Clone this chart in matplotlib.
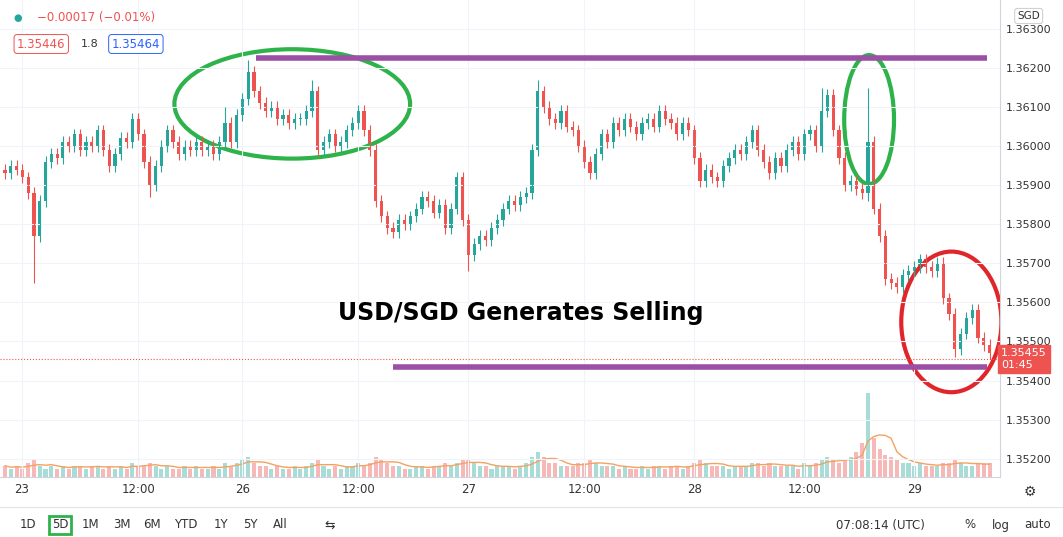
import matplotlib
matplotlib.use("Agg")
import matplotlib.pyplot as plt
from matplotlib.patches import Ellipse
import numpy as np
import pandas as pd

# closes in units of 0.0001 above 1.35
closes = [93,95,94,92,88,77,86,96,98,97,101,100,103,99,101,100,104,99,95,98,
          102,101,107,103,96,90,95,100,104,101,98,100,99,101,99,100,98,101,106,101,
          108,112,119,114,111,109,110,107,108,106,107,107,109,114,99,101,103,100,101,104,
          106,109,104,99,86,82,79,78,81,80,82,84,87,86,83,85,79,84,92,81,
          72,75,77,76,79,81,84,86,85,87,88,99,114,110,107,106,109,105,104,100,
          96,93,98,103,101,106,104,107,105,103,106,107,105,109,107,106,103,106,104,97,
          91,94,92,91,95,97,99,98,101,104,99,96,93,97,95,99,101,98,103,104,
          100,109,113,104,97,90,91,89,88,101,84,77,66,65,64,67,68,69,71,69,
          68,70,61,57,48,52,56,58,51,49,47]
first_open = 94
extreme_highs = {38: 110, 42: 122, 53: 117, 92: 117, 141: 115, 149: 115}
extreme_lows = {5: 65, 80: 68, 149: 86, 25: 87, 164: 46}
volumes = [4,3,4,3,5,6,4,3,4,3,4,3,4,4,3,4,4,3,4,3,
           4,3,5,4,4,5,4,3,4,3,3,4,3,4,3,3,4,3,5,4,
           5,6,7,5,4,4,3,4,3,3,4,3,4,5,6,4,3,4,3,4,
           4,5,4,5,7,6,5,4,4,3,3,4,4,3,4,4,5,4,5,6,
           6,5,4,4,3,4,4,4,3,4,5,7,9,7,5,5,4,4,4,5,
           5,6,5,4,4,4,3,4,3,3,4,3,4,4,3,4,4,3,4,5,
           6,5,4,4,4,3,4,4,4,5,5,4,5,4,4,4,4,3,5,4,
           5,6,7,6,5,6,7,9,12,30,14,10,8,7,6,5,5,4,5,4,
           4,4,5,5,6,5,4,4,5,5,5]
price_ticks = [1.3520,1.3530,1.3540,1.3550,1.3560,1.3570,1.3580,1.3590,1.3600,1.3610,1.3620,1.3630]
time_labels = ["23","12:00","26","12:00","27","12:00","28","12:00","29"]
time_pos = [2.9,23,41,61,80,100,119,138,157]
last_price = 1.35455

c = np.array(closes)/10000 + 1.35
o = np.concatenate([[first_open/10000 + 1.35], c[:-1]])
hi = np.maximum(o, c) + 0.00015
lo = np.minimum(o, c) - 0.00015
for k, v in extreme_highs.items(): hi[k] = v/10000 + 1.35
for k, v in extreme_lows.items(): lo[k] = v/10000 + 1.35
x = np.arange(len(c))
up = c >= o
G, R = "#26a69a", "#ef5350"
cols = np.where(up, G, R)

fig = plt.figure(figsize=(10.63, 5.37), dpi=100)
ax = fig.add_axes([0, 60/537, 1000/1063, 477/537])
axv = ax.twinx()
axv.set_ylim(0, 170)
axv.bar(x, volumes, width=0.7, color=np.where(up, "#a8ddd7", "#f7b9b8"), zorder=1)
ma = pd.Series(volumes).rolling(5, min_periods=1).mean()
axv.plot(x, ma, color="#f4a261", lw=1)
axv.set_yticks([])
for s in axv.spines.values(): s.set_visible(False)
ax.set_zorder(axv.get_zorder()+1); ax.patch.set_visible(False)

ax.vlines(x, lo, hi, colors=cols, lw=0.8)
ax.bar(x, np.maximum(np.abs(c-o), 0.00002), bottom=np.minimum(o, c), width=0.55, color=cols)
ax.set_xlim(-0.86, 171.8)
ax.set_ylim(1.35153, 1.36374)
ax.yaxis.tick_right()
ax.set_yticks(price_ticks)
ax.set_yticklabels([f"{p:.5f}" for p in price_ticks], fontsize=8, color="#333")
ax.set_xticks(time_pos)
ax.set_xticklabels(time_labels, fontsize=8.5, color="#333")
ax.tick_params(length=0, pad=4)
ax.grid(color="#f0f3fa", lw=0.8)
for s in ["top","left"]: ax.spines[s].set_visible(False)
ax.spines["bottom"].set_color("#d1d4dc"); ax.spines["right"].set_color("#d1d4dc")

ax.axhline(last_price, color=R, ls=":", lw=0.8)
ax.plot([43.3, 169.6], [1.36225, 1.36225], color="#9b4fa5", lw=4, solid_capstyle="butt")
ax.plot([67, 169.6], [1.35435, 1.35435], color="#9b4fa5", lw=4, solid_capstyle="butt")
ax.add_patch(Ellipse((49.6, 1.36108), 40.7, 0.0028, fill=False, ec="#2db34a", lw=3))
ax.add_patch(Ellipse((149.2, 1.36068), 8.6, 0.0033, fill=False, ec="#2db34a", lw=3))
ax.add_patch(Ellipse((163.4, 1.35550), 17.3, 0.0036, fill=False, ec="#e0262b", lw=3))
ax.text(89, 1.35572, "USD/SGD Generates Selling", fontsize=17, fontweight="bold", ha="center", va="center")
ax.text(1.001, (last_price-1.35153)/(1.36374-1.35153), "1.35455\n01:45", transform=ax.transAxes,
        fontsize=8, color="white", va="center", ha="left",
        bbox=dict(boxstyle="square,pad=0.3", fc=R, ec=R))

fig.text(0.035, 1-18/537, "−0.00017 (−0.01%)", color=R, fontsize=8.5, va="center")
fig.text(0.013, 1-18/537, "●", color=G, fontsize=7, va="center")
fig.text(0.016, 1-44/537, "1.35446", color=R, fontsize=8.5, va="center",
         bbox=dict(boxstyle="round,pad=0.25", fc="white", ec=R, lw=0.7))
fig.text(0.076, 1-44/537, "1.8", color="#333", fontsize=8, va="center")
fig.text(0.105, 1-44/537, "1.35464", color="#2962ff", fontsize=8.5, va="center",
         bbox=dict(boxstyle="round,pad=0.25", fc="white", ec="#2962ff", lw=0.7))
fig.text(0.957, 1-16/537, "SGD", color="#333", fontsize=7.5, va="center",
         bbox=dict(boxstyle="round,pad=0.25", fc="white", ec="#ccc", lw=0.7))
fig.text(0.969, 1-492/537, "⚙", color="#333", fontsize=10, va="center", ha="center")

fig.add_artist(plt.Line2D([0, 1], [1-507/537]*2, color="#e0e3eb", lw=0.8))
bx = [28, 60, 90, 122, 152, 186, 221, 250, 280]
for lab, px in zip(["1D","5D","1M","3M","6M","YTD","1Y","5Y","All"], bx):
    kw = {}
    if lab == "5D":
        kw = dict(bbox=dict(boxstyle="square,pad=0.2", fc="white", ec="#2db34a", lw=2))
    fig.text(px/1063, 1-525/537, lab, fontsize=8.5, ha="center", va="center", color="#333", **kw)
fig.text(330/1063, 1-525/537, "⇆", fontsize=9, ha="center", va="center", color="#333")
fig.text(880/1063, 1-525/537, "07:08:14 (UTC)", fontsize=8.5, ha="center", va="center", color="#333")
fig.text(970/1063, 1-525/537, "%", fontsize=8.5, ha="center", va="center", color="#333")
fig.text(1001/1063, 1-525/537, "log", fontsize=8.5, ha="center", va="center", color="#333")
fig.text(1038/1063, 1-525/537, "auto", fontsize=8.5, ha="center", va="center", color="#333")

fig.savefig("out.png", dpi=100)
